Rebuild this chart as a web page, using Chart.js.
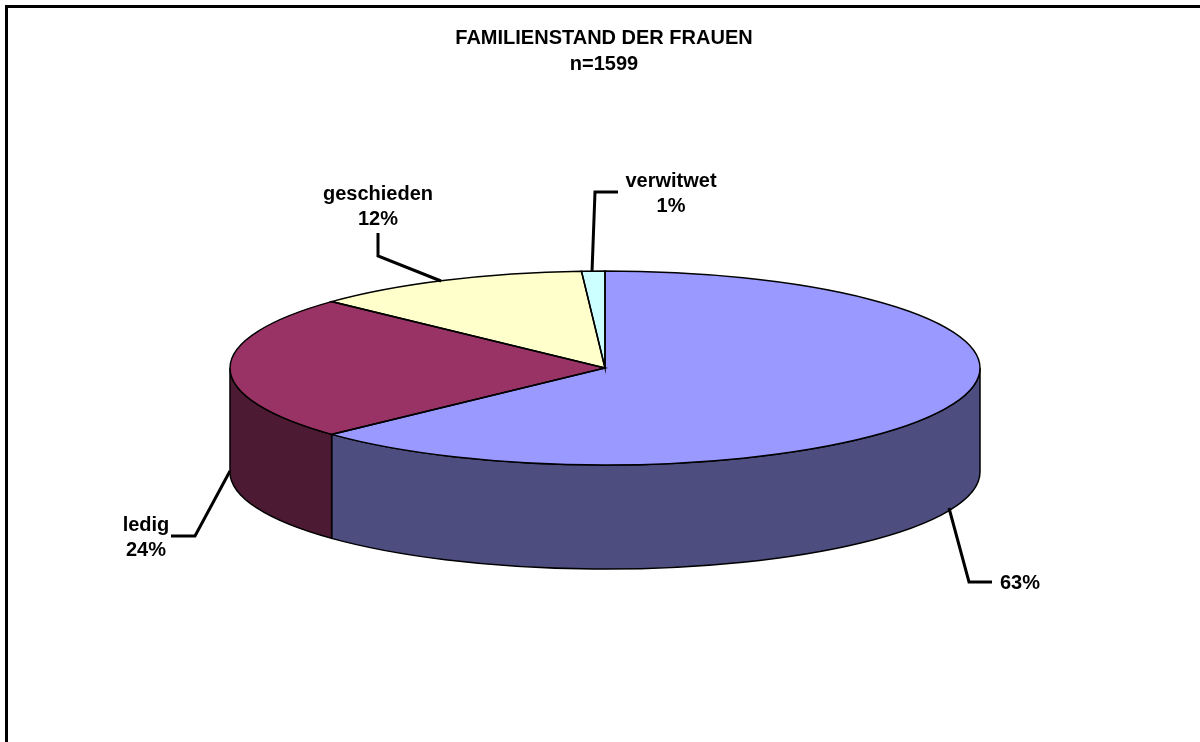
<!DOCTYPE html>
<html>
<head>
<meta charset="utf-8">
<title>Familienstand der Frauen</title>
<script src="https://cdn.jsdelivr.net/npm/chart.js@4"></script>
<style>
  html, body { margin: 0; padding: 0; background: #fff; overflow: hidden; }
  canvas { display: block; }
</style>
</head>
<body>
<canvas id="chart" width="1200" height="742"></canvas>
<script>
// values
const categories = ['', 'ledig', 'geschieden', 'verwitwet'];
const values = [63, 24, 12, 1];
const topColors = ['#9999FF', '#993366', '#FFFFCC', '#CCFFFF'];
const sideColors = ['#4D4D80', '#4D1A33', '#80801A', '#668080'];
const titleLines = ['FAMILIENSTAND DER FRAUEN', 'n=1599'];

// where the flat pie gets squeezed to
const pieShape = { cx: 605, cy: 368, rx: 375, ry: 97, depth: 104 };

// label anchors and leader lines, same order as the slices
const labelSpots = [
  { x: 1020, y: 583, line: [[949, 508], [969, 582], [992, 582]] },
  { x: 146, y: 538, line: [[230, 471], [195, 536], [171, 536]] },
  { x: 378, y: 207, line: [[441, 281], [378, 256], [378, 233]] },
  { x: 671, y: 194, line: [[592, 272], [595, 192], [618, 192]] }
];

const pie3d = {
  id: 'pie3d',
  beforeDatasetsDraw(chart) {
    const ctx = chart.ctx;
    const arcs = chart.getDatasetMeta(0).data;
    const s = pieShape;

    // side wall, only the front half of the ellipse shows
    arcs.forEach((arc, i) => {
      const a0 = Math.max(arc.startAngle, 0);
      const a1 = Math.min(arc.endAngle, Math.PI);
      if (a1 <= a0) return;
      ctx.beginPath();
      ctx.ellipse(s.cx, s.cy, s.rx, s.ry, 0, a0, a1);
      ctx.ellipse(s.cx, s.cy + s.depth, s.rx, s.ry, 0, a1, a0, true);
      ctx.closePath();
      ctx.fillStyle = sideColors[i];
      ctx.fill();
      ctx.strokeStyle = '#000';
      ctx.lineWidth = 1.5;
      ctx.stroke();
    });

    // top face, the library's own arcs through a squeeze
    arcs.forEach(arc => {
      const r = arc.outerRadius;
      ctx.save();
      ctx.translate(s.cx, s.cy);
      ctx.scale(s.rx / r, s.ry / r);
      ctx.translate(-arc.x, -arc.y);
      arc.draw(ctx);
      ctx.restore();
    });

    // outlines kept out of the squeeze so the line width stays even
    arcs.forEach(arc => {
      ctx.beginPath();
      ctx.moveTo(s.cx, s.cy);
      ctx.ellipse(s.cx, s.cy, s.rx, s.ry, 0, arc.startAngle, arc.endAngle);
      ctx.closePath();
      ctx.strokeStyle = '#000';
      ctx.lineWidth = 1.5;
      ctx.stroke();
    });
    return false;
  },
  afterDraw(chart) {
    const ctx = chart.ctx;
    // frame, no right or bottom edge in the picture
    ctx.fillStyle = '#000';
    ctx.fillRect(5, 5, 1195, 3);
    ctx.fillRect(5, 5, 3, 737);

    ctx.font = 'bold 20px "Liberation Sans", Arial, sans-serif';
    ctx.textAlign = 'center';
    ctx.textBaseline = 'middle';
    labelSpots.forEach((spot, i) => {
      ctx.beginPath();
      spot.line.forEach((p, j) => j ? ctx.lineTo(p[0], p[1]) : ctx.moveTo(p[0], p[1]));
      ctx.strokeStyle = '#000';
      ctx.lineWidth = 3;
      ctx.lineJoin = 'miter';
      ctx.stroke();

      ctx.fillStyle = '#000';
      if (categories[i]) {
        ctx.fillText(categories[i], spot.x, spot.y - 13);
        ctx.fillText(values[i] + '%', spot.x, spot.y + 12);
      } else {
        ctx.fillText(values[i] + '%', spot.x, spot.y);
      }
    });
  }
};

new Chart(document.getElementById('chart'), {
  type: 'pie',
  data: {
    labels: categories,
    datasets: [{
      data: values,
      backgroundColor: topColors,
      borderWidth: 0
    }]
  },
  options: {
    responsive: false,
    animation: false,
    layout: { padding: { left: 8 } },
    plugins: {
      legend: { display: false },
      tooltip: { enabled: false },
      title: {
        display: true,
        text: titleLines,
        color: '#000',
        font: { family: '"Liberation Sans", Arial, sans-serif', size: 20, weight: 'bold', lineHeight: 1.3 },
        padding: { top: 25, bottom: 10 }
      }
    }
  },
  plugins: [pie3d]
});
</script>
</body>
</html>
